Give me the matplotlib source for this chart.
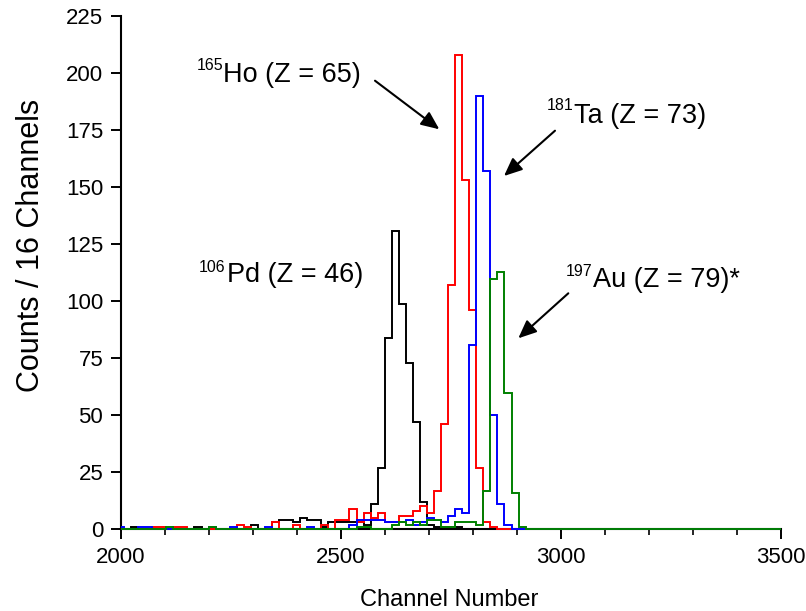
import numpy as np
import matplotlib
matplotlib.use("Agg")
import matplotlib.pyplot as plt
from matplotlib.ticker import MultipleLocator

plt.rcParams['font.family'] = ['Liberation Sans', 'DejaVu Sans']

# Bin centres (16-channel bins) and counts per series
centers = [2000 + 16 * k for k in range(59)]

pd_counts = [0, 0, 1, 0, 0, 0, 0, 0, 0, 0,
             0, 1, 0, 0, 0, 0, 0, 0, 0, 2,
             0, 0, 3, 4, 4, 3, 5, 4, 4, 1,
             3, 3, 3, 3, 3, 2, 11, 27, 84, 131,
             99, 73, 47, 12, 2, 1, 1, 1, 1, 0,
             0, 0, 0, 0, 0, 0, 0, 0, 0]

ho_counts = [0, 0, 0, 0, 0, 1, 1, 0, 1, 1,
             0, 0, 0, 0, 0, 0, 0, 2, 1, 0,
             0, 0, 3, 0, 0, 2, 0, 0, 0, 2,
             0, 4, 4, 9, 3, 7, 5, 7, 3, 3,
             6, 6, 8, 10, 7, 17, 46, 107, 208, 153,
             96, 27, 3, 1, 0, 0, 0, 0, 0]

ta_counts = [1, 0, 0, 1, 1, 0, 0, 0, 0, 0,
             0, 0, 0, 1, 0, 0, 1, 0, 0, 0,
             0, 1, 0, 0, 0, 0, 0, 1, 0, 0,
             0, 0, 0, 2, 4, 4, 4, 4, 3, 3,
             3, 4, 2, 3, 5, 4, 3, 6, 9, 7,
             81, 190, 157, 50, 11, 2, 0, 0, 0]

au_counts = [0, 0, 0, 0, 0, 0, 0, 1, 0, 0,
             0, 0, 0, 1, 0, 0, 0, 0, 0, 0,
             0, 0, 0, 0, 0, 0, 0, 0, 0, 0,
             0, 0, 0, 0, 1, 1, 0, 0, 0, 2,
             3, 2, 3, 2, 4, 4, 1, 1, 3, 3,
             3, 2, 17, 110, 113, 60, 16, 1, 0]

series = [(pd_counts, 'black'), (ho_counts, 'red'),
          (ta_counts, 'blue'), (au_counts, 'green')]

x_major = [2000, 2500, 3000, 3500]
y_major = [0, 25, 50, 75, 100, 125, 150, 175, 200, 225]

W, H = 806, 611
fig = plt.figure(figsize=(W / 100, H / 100), dpi=100)
ax = fig.add_axes([120.5 / W, 1 - 529.3 / H, (781 - 120.5) / W, (529.3 - 16.3) / H])

edges = [2000] + [c + 8 for c in centers] + [3500]
for counts, col in series:
    vals = list(counts) + [0]
    ax.stairs(vals, edges, color=col, lw=1.4, baseline=None, zorder=3, clip_on=False)

ax.set_xlim(2000, 3500)
ax.set_ylim(0, 225)
ax.set_xticks(x_major)
ax.set_yticks(y_major)
ax.xaxis.set_minor_locator(MultipleLocator(100))
for s in ['top', 'right']:
    ax.spines[s].set_visible(False)
for s in ['left', 'bottom']:
    ax.spines[s].set_linewidth(1.5)
ax.tick_params(axis='both', which='major', direction='out', length=7.5, width=1.4,
               labelsize=16, pad=5)
ax.tick_params(axis='x', which='minor', direction='out', length=4, width=1.2)

def px(x, y):
    return x / W, 1 - y / H

# axis labels
fig.text(*px(449, 606), 'Channel Number', fontsize=17, ha='center', va='baseline')
fig.text(*px(31, 245), 'Counts / 16 Channels', fontsize=22, ha='center', va='center',
         rotation=90)

# annotations: (sup, main, sup_left, sup_base, main_left, main_base)
labels = [
    ('165', 'Ho (Z = 65)', 196.7, 70, 223.3, 82.3),
    ('106', 'Pd (Z = 46)', 198.3, 271.5, 226.7, 282.3),
    ('181', 'Ta (Z = 73)', 546.7, 109.5, 574, 122.7),
    ('197', 'Au (Z = 79)*', 566, 275.8, 593.3, 286.7),
]
for sup, main, sx, sy, mx, my in labels:
    fig.text(*px(sx, sy), sup, fontsize=11.5, ha='left', va='baseline')
    fig.text(*px(mx, my), main, fontsize=19.5, ha='left', va='baseline')

arrows = [((375, 80.7), (439.3, 129.3)),
          ((555, 130.7), (504, 176)),
          ((568.3, 293.3), (518.3, 338.3))]
for (x0, y0), (x1, y1) in arrows:
    ax.annotate('', xy=(x1, H - y1), xycoords='figure pixels',
                xytext=(x0, H - y0), textcoords='figure pixels',
                arrowprops=dict(arrowstyle='-|>,head_length=0.55,head_width=0.24',
                                mutation_scale=20, lw=1.5, color='black',
                                shrinkA=0, shrinkB=0))

fig.savefig('out.png', dpi=100)
